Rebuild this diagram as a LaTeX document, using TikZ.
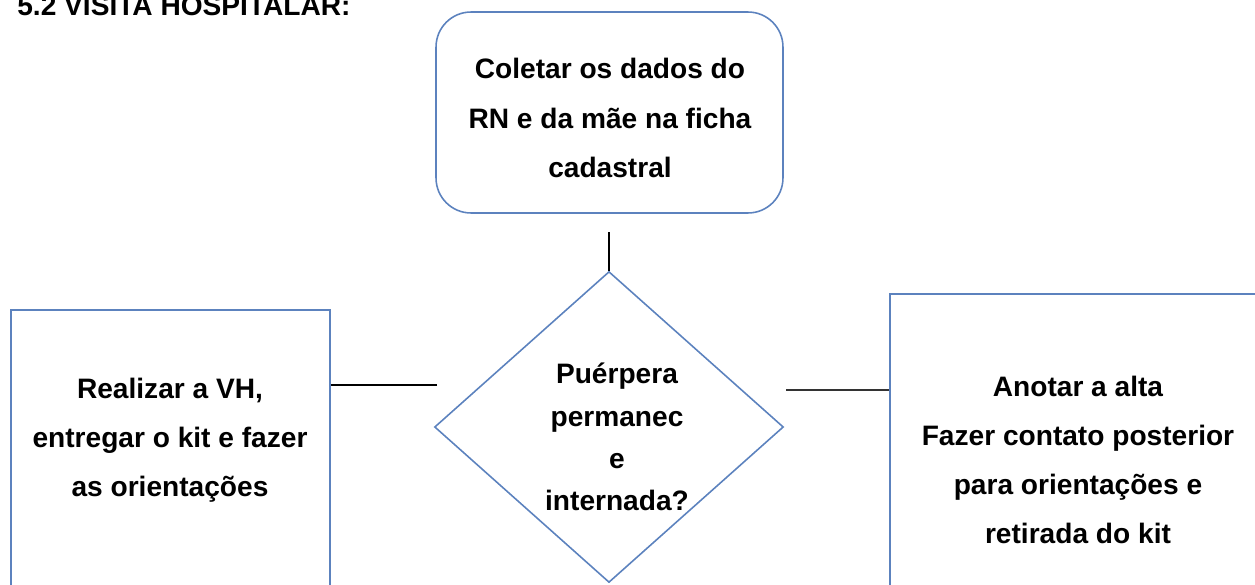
\documentclass[tikz,border=0pt]{standalone}
\usepackage{fontspec}
\setmainfont{Liberation Sans}
\usetikzlibrary{shapes.geometric}
\definecolor{boxblue}{RGB}{92,130,190}
\begin{document}
\begin{tikzpicture}[
        x=0.02cm, y=-0.02cm,
        every node/.style={font=\bfseries\fontsize{16}{28}\selectfont},
        stepbox/.style={draw=boxblue, line width=0.9pt, inner sep=0pt},
        txt/.style={align=center, inner sep=0pt},
        link/.style={line width=1.4pt}
    ]
    \useasboundingbox (0,0) rectangle (1255,585);

    \node [anchor=base west, inner sep=0pt] (title) at (17,15) {5.2 VISITA HOSPITALAR:};

    \node [stepbox, rounded corners=0.7cm, minimum width=6.94cm, minimum height=4.02cm]
        (coleta) at (609.5,112.5) {};
    \node [txt] (coletatxt) at (610,118) {Coletar os dados do\\RN e da mãe na ficha\\cadastral};

    \node [stepbox, diamond, minimum width=6.98cm, minimum height=6.22cm]
        (decisao) at (609,427) {};
    \node [txt, font=\bfseries\fontsize{16}{24}\selectfont] (pergunta) at (617,437)
        {Puérpera\\permanec\\e\\internada?};

    \node [stepbox, anchor=north west, minimum width=6.38cm, minimum height=6.22cm] (realizar) at (10,309) {};
    \node [txt] (realizartxt) at (170,440) {Realizar a VH,\\entregar o kit e fazer\\as orientações};

    \node [stepbox, anchor=north west, minimum width=7.82cm, minimum height=6.54cm] (anotar) at (889,293) {};
    \node [txt] (anotartxt) at (1078,460) {Anotar a alta\\Fazer contato posterior\\para orientações e\\retirada do kit};

    \coordinate (topgap) at (609,232);
    \coordinate (leftend) at (437,385);
    \coordinate (rightend) at (786,390);

    \draw [link] (topgap) -- (decisao.north);
    \draw [link] (leftend) -- (leftend -| realizar.east);
    \draw [link, black!80] (rightend) -- (rightend -| anotar.west);
\end{tikzpicture}
\end{document}
